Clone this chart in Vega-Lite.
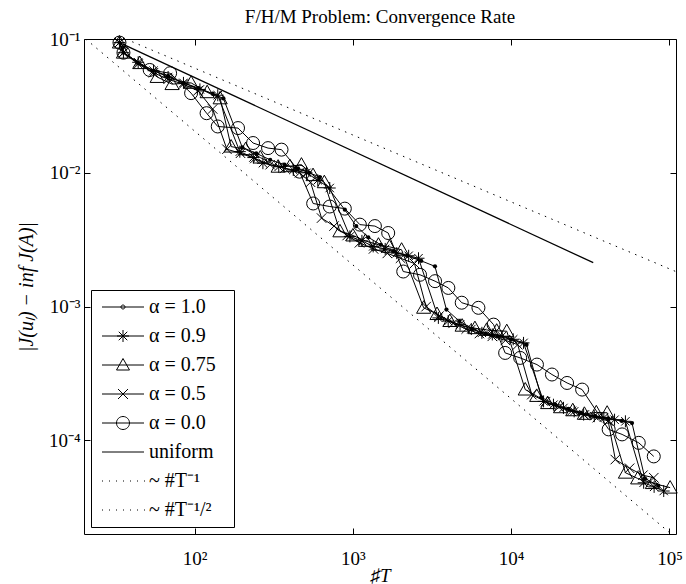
{
  "$schema": "https://vega.github.io/schema/vega-lite/v6.json",
  "width": 592,
  "height": 495,
  "autosize": "none",
  "padding": {"left": 84, "top": 39, "right": 10, "bottom": 50},
  "background": "white",
  "title": {"text": "F/H/M Problem: Convergence Rate", "font": "Liberation Serif", "fontSize": 19, "fontWeight": "normal", "color": "black", "offset": 3},
  "datasets": {
    "series": [
      {"s": "α = 1.0", "x": 33.5, "y": 0.094}, {"s": "α = 1.0", "x": 35.5, "y": 0.079}, {"s": "α = 1.0", "x": 44, "y": 0.066}, {"s": "α = 1.0", "x": 55, "y": 0.058}, {"s": "α = 1.0", "x": 68, "y": 0.053}, {"s": "α = 1.0", "x": 85, "y": 0.047}, {"s": "α = 1.0", "x": 106, "y": 0.043}, {"s": "α = 1.0", "x": 130, "y": 0.039}, {"s": "α = 1.0", "x": 152, "y": 0.036}, {"s": "α = 1.0", "x": 200, "y": 0.0155}, {"s": "α = 1.0", "x": 245, "y": 0.014}, {"s": "α = 1.0", "x": 300, "y": 0.0125}, {"s": "α = 1.0", "x": 370, "y": 0.0115}, {"s": "α = 1.0", "x": 450, "y": 0.0108}, {"s": "α = 1.0", "x": 530, "y": 0.01}, {"s": "α = 1.0", "x": 618, "y": 0.0093}, {"s": "α = 1.0", "x": 889, "y": 0.0053}, {"s": "α = 1.0", "x": 1050, "y": 0.004}, {"s": "α = 1.0", "x": 1250, "y": 0.0033}, {"s": "α = 1.0", "x": 1500, "y": 0.0029}, {"s": "α = 1.0", "x": 1800, "y": 0.0026}, {"s": "α = 1.0", "x": 2200, "y": 0.0024}, {"s": "α = 1.0", "x": 2700, "y": 0.0022}, {"s": "α = 1.0", "x": 3300, "y": 0.002}, {"s": "α = 1.0", "x": 3900, "y": 0.00095}, {"s": "α = 1.0", "x": 4700, "y": 0.00078}, {"s": "α = 1.0", "x": 5700, "y": 0.00068}, {"s": "α = 1.0", "x": 6900, "y": 0.00063}, {"s": "α = 1.0", "x": 8300, "y": 0.0006}, {"s": "α = 1.0", "x": 10000, "y": 0.00057}, {"s": "α = 1.0", "x": 12500, "y": 0.00052}, {"s": "α = 1.0", "x": 15500, "y": 0.00021}, {"s": "α = 1.0", "x": 19000, "y": 0.000185}, {"s": "α = 1.0", "x": 23000, "y": 0.000172}, {"s": "α = 1.0", "x": 28000, "y": 0.00016}, {"s": "α = 1.0", "x": 34000, "y": 0.000152}, {"s": "α = 1.0", "x": 41000, "y": 0.000146}, {"s": "α = 1.0", "x": 50000, "y": 0.00014}, {"s": "α = 1.0", "x": 58000, "y": 0.000135}, {"s": "α = 1.0", "x": 70000, "y": 0.000052}, {"s": "α = 1.0", "x": 85000, "y": 0.000046},

      {"s": "α = 0.9", "x": 33.5, "y": 0.094}, {"s": "α = 0.9", "x": 35.5, "y": 0.079}, {"s": "α = 0.9", "x": 44, "y": 0.067}, {"s": "α = 0.9", "x": 55, "y": 0.058}, {"s": "α = 0.9", "x": 68, "y": 0.052}, {"s": "α = 0.9", "x": 85, "y": 0.047}, {"s": "α = 0.9", "x": 108, "y": 0.042}, {"s": "α = 0.9", "x": 140, "y": 0.038}, {"s": "α = 0.9", "x": 193, "y": 0.0144}, {"s": "α = 0.9", "x": 235, "y": 0.013}, {"s": "α = 0.9", "x": 270, "y": 0.0118}, {"s": "α = 0.9", "x": 340, "y": 0.0111}, {"s": "α = 0.9", "x": 420, "y": 0.0105}, {"s": "α = 0.9", "x": 509, "y": 0.01}, {"s": "α = 0.9", "x": 600, "y": 0.0088}, {"s": "α = 0.9", "x": 714, "y": 0.0077}, {"s": "α = 0.9", "x": 957, "y": 0.00335}, {"s": "α = 0.9", "x": 1140, "y": 0.0031}, {"s": "α = 0.9", "x": 1343, "y": 0.00282}, {"s": "α = 0.9", "x": 1600, "y": 0.0027}, {"s": "α = 0.9", "x": 1892, "y": 0.00251}, {"s": "α = 0.9", "x": 2250, "y": 0.0024}, {"s": "α = 0.9", "x": 2597, "y": 0.0023}, {"s": "α = 0.9", "x": 3467, "y": 0.000824}, {"s": "α = 0.9", "x": 4000, "y": 0.00078}, {"s": "α = 0.9", "x": 4754, "y": 0.000734}, {"s": "α = 0.9", "x": 5600, "y": 0.00068}, {"s": "α = 0.9", "x": 6530, "y": 0.000637}, {"s": "α = 0.9", "x": 7600, "y": 0.00062}, {"s": "α = 0.9", "x": 8740, "y": 0.000601}, {"s": "α = 0.9", "x": 10300, "y": 0.00057}, {"s": "α = 0.9", "x": 11970, "y": 0.000536}, {"s": "α = 0.9", "x": 16020, "y": 0.000196}, {"s": "α = 0.9", "x": 18500, "y": 0.000185}, {"s": "α = 0.9", "x": 21400, "y": 0.000175}, {"s": "α = 0.9", "x": 25000, "y": 0.000165}, {"s": "α = 0.9", "x": 28700, "y": 0.000156}, {"s": "α = 0.9", "x": 33500, "y": 0.000152}, {"s": "α = 0.9", "x": 38500, "y": 0.000148}, {"s": "α = 0.9", "x": 45000, "y": 0.000143}, {"s": "α = 0.9", "x": 52700, "y": 0.000139}, {"s": "α = 0.9", "x": 68700, "y": 0.0000483}, {"s": "α = 0.9", "x": 80000, "y": 0.000045}, {"s": "α = 0.9", "x": 92000, "y": 0.0000419},

      {"s": "α = 0.75", "x": 33.5, "y": 0.094}, {"s": "α = 0.75", "x": 35.5, "y": 0.079}, {"s": "α = 0.75", "x": 45, "y": 0.066}, {"s": "α = 0.75", "x": 58, "y": 0.052}, {"s": "α = 0.75", "x": 72, "y": 0.046}, {"s": "α = 0.75", "x": 95, "y": 0.047}, {"s": "α = 0.75", "x": 120, "y": 0.04}, {"s": "α = 0.75", "x": 145, "y": 0.036}, {"s": "α = 0.75", "x": 170, "y": 0.0157}, {"s": "α = 0.75", "x": 210, "y": 0.015}, {"s": "α = 0.75", "x": 260, "y": 0.013}, {"s": "α = 0.75", "x": 337, "y": 0.0111}, {"s": "α = 0.75", "x": 400, "y": 0.0112}, {"s": "α = 0.75", "x": 473, "y": 0.0115}, {"s": "α = 0.75", "x": 560, "y": 0.0096}, {"s": "α = 0.75", "x": 660, "y": 0.0085}, {"s": "α = 0.75", "x": 828, "y": 0.00365}, {"s": "α = 0.75", "x": 1000, "y": 0.0034}, {"s": "α = 0.75", "x": 1200, "y": 0.0031}, {"s": "α = 0.75", "x": 1450, "y": 0.0029}, {"s": "α = 0.75", "x": 1700, "y": 0.0028}, {"s": "α = 0.75", "x": 2031, "y": 0.00266}, {"s": "α = 0.75", "x": 2800, "y": 0.00098}, {"s": "α = 0.75", "x": 3400, "y": 0.00088}, {"s": "α = 0.75", "x": 4100, "y": 0.00078}, {"s": "α = 0.75", "x": 4900, "y": 0.00072}, {"s": "α = 0.75", "x": 5900, "y": 0.00069}, {"s": "α = 0.75", "x": 7000, "y": 0.00067}, {"s": "α = 0.75", "x": 8100, "y": 0.00066}, {"s": "α = 0.75", "x": 9380, "y": 0.000655}, {"s": "α = 0.75", "x": 12270, "y": 0.00024}, {"s": "α = 0.75", "x": 14500, "y": 0.000215}, {"s": "α = 0.75", "x": 17000, "y": 0.00019}, {"s": "α = 0.75", "x": 20500, "y": 0.000177}, {"s": "α = 0.75", "x": 24500, "y": 0.000168}, {"s": "α = 0.75", "x": 29000, "y": 0.000158}, {"s": "α = 0.75", "x": 34500, "y": 0.000162}, {"s": "α = 0.75", "x": 40400, "y": 0.000161}, {"s": "α = 0.75", "x": 52700, "y": 0.0000574}, {"s": "α = 0.75", "x": 63000, "y": 0.000052}, {"s": "α = 0.75", "x": 78000, "y": 0.000048}, {"s": "α = 0.75", "x": 101000, "y": 0.0000444},

      {"s": "α = 0.5", "x": 33.5, "y": 0.094}, {"s": "α = 0.5", "x": 35.5, "y": 0.079}, {"s": "α = 0.5", "x": 44, "y": 0.065}, {"s": "α = 0.5", "x": 55, "y": 0.056}, {"s": "α = 0.5", "x": 68, "y": 0.05}, {"s": "α = 0.5", "x": 85, "y": 0.046}, {"s": "α = 0.5", "x": 105, "y": 0.041}, {"s": "α = 0.5", "x": 130, "y": 0.03}, {"s": "α = 0.5", "x": 160, "y": 0.015}, {"s": "α = 0.5", "x": 195, "y": 0.014}, {"s": "α = 0.5", "x": 240, "y": 0.0128}, {"s": "α = 0.5", "x": 300, "y": 0.0115}, {"s": "α = 0.5", "x": 370, "y": 0.0108}, {"s": "α = 0.5", "x": 460, "y": 0.01}, {"s": "α = 0.5", "x": 540, "y": 0.0085}, {"s": "α = 0.5", "x": 634, "y": 0.00459}, {"s": "α = 0.5", "x": 760, "y": 0.004}, {"s": "α = 0.5", "x": 920, "y": 0.0034}, {"s": "α = 0.5", "x": 1100, "y": 0.003}, {"s": "α = 0.5", "x": 1350, "y": 0.0027}, {"s": "α = 0.5", "x": 1650, "y": 0.0025}, {"s": "α = 0.5", "x": 2000, "y": 0.0023}, {"s": "α = 0.5", "x": 2450, "y": 0.0021}, {"s": "α = 0.5", "x": 2900, "y": 0.001}, {"s": "α = 0.5", "x": 3500, "y": 0.00085}, {"s": "α = 0.5", "x": 4300, "y": 0.00075}, {"s": "α = 0.5", "x": 5200, "y": 0.00068}, {"s": "α = 0.5", "x": 6300, "y": 0.00063}, {"s": "α = 0.5", "x": 7600, "y": 0.0006}, {"s": "α = 0.5", "x": 9200, "y": 0.00056}, {"s": "α = 0.5", "x": 11000, "y": 0.00052}, {"s": "α = 0.5", "x": 13500, "y": 0.00022}, {"s": "α = 0.5", "x": 16500, "y": 0.000195}, {"s": "α = 0.5", "x": 20000, "y": 0.000178}, {"s": "α = 0.5", "x": 24000, "y": 0.000165}, {"s": "α = 0.5", "x": 29000, "y": 0.000155}, {"s": "α = 0.5", "x": 35000, "y": 0.000148}, {"s": "α = 0.5", "x": 41000, "y": 0.00014}, {"s": "α = 0.5", "x": 45500, "y": 0.000072}, {"s": "α = 0.5", "x": 56000, "y": 0.000062}, {"s": "α = 0.5", "x": 68000, "y": 0.000055}, {"s": "α = 0.5", "x": 79600, "y": 0.0000527},

      {"s": "α = 0.0", "x": 33.5, "y": 0.094}, {"s": "α = 0.0", "x": 35.5, "y": 0.079}, {"s": "α = 0.0", "x": 52, "y": 0.0587}, {"s": "α = 0.0", "x": 70, "y": 0.0555}, {"s": "α = 0.0", "x": 95, "y": 0.0394}, {"s": "α = 0.0", "x": 119, "y": 0.0279}, {"s": "α = 0.0", "x": 140, "y": 0.0222}, {"s": "α = 0.0", "x": 188, "y": 0.0216}, {"s": "α = 0.0", "x": 234, "y": 0.0167}, {"s": "α = 0.0", "x": 291, "y": 0.0153}, {"s": "α = 0.0", "x": 354, "y": 0.0149}, {"s": "α = 0.0", "x": 460, "y": 0.0102}, {"s": "α = 0.0", "x": 561, "y": 0.0059}, {"s": "α = 0.0", "x": 714, "y": 0.0056}, {"s": "α = 0.0", "x": 889, "y": 0.0054}, {"s": "α = 0.0", "x": 1107, "y": 0.0041}, {"s": "α = 0.0", "x": 1377, "y": 0.004}, {"s": "α = 0.0", "x": 1671, "y": 0.00355}, {"s": "α = 0.0", "x": 2080, "y": 0.00183}, {"s": "α = 0.0", "x": 2655, "y": 0.00173}, {"s": "α = 0.0", "x": 3304, "y": 0.00155}, {"s": "α = 0.0", "x": 4010, "y": 0.00138}, {"s": "α = 0.0", "x": 4870, "y": 0.00107}, {"s": "α = 0.0", "x": 6210, "y": 0.00098}, {"s": "α = 0.0", "x": 7740, "y": 0.000734}, {"s": "α = 0.0", "x": 9160, "y": 0.000451}, {"s": "α = 0.0", "x": 11400, "y": 0.000414}, {"s": "α = 0.0", "x": 14550, "y": 0.000369}, {"s": "α = 0.0", "x": 18100, "y": 0.000311}, {"s": "α = 0.0", "x": 22550, "y": 0.000269}, {"s": "α = 0.0", "x": 28070, "y": 0.00024}, {"s": "α = 0.0", "x": 41300, "y": 0.000121}, {"s": "α = 0.0", "x": 50200, "y": 0.000111}, {"s": "α = 0.0", "x": 64000, "y": 0.000096}, {"s": "α = 0.0", "x": 79600, "y": 0.000076}
    ],
    "refs": [
      {"s": "uniform", "x": 33.5, "y": 0.094}, {"s": "uniform", "x": 33000, "y": 0.00213},
      {"s": "T1", "x": 20.5, "y": 0.1}, {"s": "T1", "x": 100000, "y": 0.0000205},
      {"s": "T12", "x": 36.7, "y": 0.1}, {"s": "T12", "x": 110000, "y": 0.001827}
    ],
    "legendItems": [
      {"item": "α = 1.0"}, {"item": "α = 0.9"}, {"item": "α = 0.75"}, {"item": "α = 0.5"}, {"item": "α = 0.0"}, {"item": "uniform"}, {"item": "~ #T⁻¹"}, {"item": "~ #T⁻¹/²"}
    ]
  },
  "layer": [
    {
      "data": {"name": "series"},
      "mark": {"type": "line", "color": "black", "strokeWidth": 1},
      "encoding": {
        "x": {"field": "x", "type": "quantitative", "scale": {"type": "log", "domain": [20, 110000]},
          "axis": {"orient": "bottom", "values": [100, 1000, 10000, 100000], "labelExpr": "round(log(datum.value)/LN10) == 2 ? '10²' : round(log(datum.value)/LN10) == 3 ? '10³' : round(log(datum.value)/LN10) == 4 ? '10⁴' : '10⁵'", "tickSize": -6, "labelPadding": 21, "labelFlush": false, "labelOverlap": false, "domain": false, "grid": false, "title": "♯T", "titleFontStyle": "italic", "titlePadding": -2}},
        "y": {"field": "y", "type": "quantitative", "scale": {"type": "log", "domain": [0.00002, 0.1]},
          "axis": {"orient": "left", "values": [0.0001, 0.001, 0.01, 0.1], "labelExpr": "round(log(datum.value)/LN10) == -1 ? '10⁻¹' : round(log(datum.value)/LN10) == -2 ? '10⁻²' : round(log(datum.value)/LN10) == -3 ? '10⁻³' : '10⁻⁴'", "tickSize": -6, "labelPadding": 10, "labelFlush": false, "labelOverlap": false, "domain": false, "grid": false, "title": "|J(uₗ) − inf J(A)|", "titleFontStyle": "italic", "titleFontSize": 20, "titlePadding": 12}},
        "detail": {"field": "s"}
      }
    },
    {
      "data": {"name": "series"},
      "transform": [{"filter": "datum.s == 'α = 1.0'"}],
      "mark": {"type": "point", "shape": "circle", "filled": true, "color": "black", "size": 18, "opacity": 1},
      "encoding": {
        "x": {"field": "x", "type": "quantitative", "scale": {"type": "log", "domain": [20, 110000]}, "axis": null},
        "y": {"field": "y", "type": "quantitative", "scale": {"type": "log", "domain": [0.00002, 0.1]}, "axis": null}
      }
    },
    {
      "data": {"name": "series"},
      "transform": [{"filter": "datum.s == 'α = 0.9'"}],
      "mark": {"type": "point", "shape": "M0,-1L0,1M-1,0L1,0M-0.7,-0.7L0.7,0.7M-0.7,0.7L0.7,-0.7", "filled": false, "color": "black", "size": 144, "strokeWidth": 1, "opacity": 1},
      "encoding": {
        "x": {"field": "x", "type": "quantitative", "scale": {"type": "log", "domain": [20, 110000]}, "axis": null},
        "y": {"field": "y", "type": "quantitative", "scale": {"type": "log", "domain": [0.00002, 0.1]}, "axis": null}
      }
    },
    {
      "data": {"name": "series"},
      "transform": [{"filter": "datum.s == 'α = 0.75'"}],
      "mark": {"type": "point", "shape": "M0,-1L1,0.77L-1,0.77Z", "filled": false, "color": "black", "size": 200, "strokeWidth": 1, "opacity": 1},
      "encoding": {
        "x": {"field": "x", "type": "quantitative", "scale": {"type": "log", "domain": [20, 110000]}, "axis": null},
        "y": {"field": "y", "type": "quantitative", "scale": {"type": "log", "domain": [0.00002, 0.1]}, "axis": null}
      }
    },
    {
      "data": {"name": "series"},
      "transform": [{"filter": "datum.s == 'α = 0.5'"}],
      "mark": {"type": "point", "shape": "M-1,-1L1,1M-1,1L1,-1", "filled": false, "color": "black", "size": 90, "strokeWidth": 1, "opacity": 1},
      "encoding": {
        "x": {"field": "x", "type": "quantitative", "scale": {"type": "log", "domain": [20, 110000]}, "axis": null},
        "y": {"field": "y", "type": "quantitative", "scale": {"type": "log", "domain": [0.00002, 0.1]}, "axis": null}
      }
    },
    {
      "data": {"name": "series"},
      "transform": [{"filter": "datum.s == 'α = 0.0'"}],
      "mark": {"type": "point", "shape": "circle", "filled": false, "color": "black", "size": 169, "strokeWidth": 1, "opacity": 1},
      "encoding": {
        "x": {"field": "x", "type": "quantitative", "scale": {"type": "log", "domain": [20, 110000]}, "axis": null},
        "y": {"field": "y", "type": "quantitative", "scale": {"type": "log", "domain": [0.00002, 0.1]}, "axis": null}
      }
    },
    {
      "data": {"name": "refs"},
      "transform": [{"filter": "datum.s == 'uniform'"}],
      "mark": {"type": "line", "color": "black", "strokeWidth": 1.3},
      "encoding": {
        "x": {"field": "x", "type": "quantitative", "scale": {"type": "log", "domain": [20, 110000]},
          "axis": {"orient": "top", "values": [100, 1000, 10000, 100000], "labels": false, "tickSize": -6, "domain": false, "grid": false, "title": null}},
        "y": {"field": "y", "type": "quantitative", "scale": {"type": "log", "domain": [0.00002, 0.1]},
          "axis": {"orient": "right", "values": [0.0001, 0.001, 0.01, 0.1], "labels": false, "tickSize": -6, "domain": false, "grid": false, "title": null}}
      }
    },
    {
      "data": {"name": "refs"},
      "transform": [{"filter": "datum.s != 'uniform'"}],
      "mark": {"type": "line", "color": "black", "strokeWidth": 1, "strokeDash": [1.5, 5.5], "clip": true},
      "encoding": {
        "x": {"field": "x", "type": "quantitative", "scale": {"type": "log", "domain": [20, 110000]}, "axis": null},
        "y": {"field": "y", "type": "quantitative", "scale": {"type": "log", "domain": [0.00002, 0.1]}, "axis": null},
        "detail": {"field": "s"}
      }
    },
    {
      "data": {"name": "legendItems"},
      "mark": {"type": "point", "filled": false, "color": "black", "opacity": 0},
      "encoding": {
        "shape": {"field": "item", "type": "nominal",
          "scale": {"domain": ["α = 1.0", "α = 0.9", "α = 0.75", "α = 0.5", "α = 0.0", "uniform", "~ #T⁻¹", "~ #T⁻¹/²"],
            "range": [
              "M-4.2,0L4.2,0M0.4,0A0.4,0.4,0,1,1,-0.4,0A0.4,0.4,0,1,1,0.4,0",
              "M-4.2,0L4.2,0M0,-1.2L0,1.2M-1.2,0L1.2,0M-0.85,-0.85L0.85,0.85M-0.85,0.85L0.85,-0.85",
              "M-4.2,0L4.2,0M0,-1.3L1.3,1L-1.3,1Z",
              "M-4.2,0L4.2,0M-1,-1L1,1M-1,1L1,-1",
              "M-4.2,0L4.2,0M1.3,0A1.3,1.3,0,1,1,-1.3,0A1.3,1.3,0,1,1,1.3,0",
              "M-4.2,0L4.2,0M20.4,0",
              "M-4.2,0L-4,0M-2.8,0L-2.6,0M-1.4,0L-1.2,0M0,0L0.2,0M1.4,0L1.6,0M2.8,0L3,0M4.2,0L4.4,0",
              "M-4.2,0L-4,0M-2.8,0L-2.6,0M-1.4,0L-1.2,0M0,0L0.2,0M1.4,0L1.6,0M2.8,0L3,0M4.2,0L4.4,0"
            ]},
          "legend": {"title": null, "orient": "bottom-left", "offset": 7, "padding": 7, "symbolSize": 100, "symbolStrokeWidth": 1, "symbolStrokeColor": "black", "symbolFillColor": "transparent", "symbolOpacity": 1, "symbolOffset": 15, "labelOffset": 16, "rowPadding": 9, "strokeColor": "black", "fillColor": "white", "labelFont": "Liberation Serif", "labelFontSize": 20, "labelColor": "black",
            "encode": {"symbols": {"update": {"opacity": {"value": 1}, "strokeWidth": {"value": 1}, "stroke": {"value": "black"}}}}}
        }
      }
    }
  ],
  "resolve": {"axis": {"x": "independent", "y": "independent"}},
  "config": {
    "view": {"stroke": "black", "strokeWidth": 1},
    "font": "Liberation Serif",
    "axis": {"labelFont": "Liberation Serif", "labelFontSize": 19, "labelColor": "black", "tickColor": "black", "tickWidth": 1, "titleFont": "Liberation Serif", "titleFontSize": 19, "titleFontWeight": "normal", "titleColor": "black"}
  }
}
